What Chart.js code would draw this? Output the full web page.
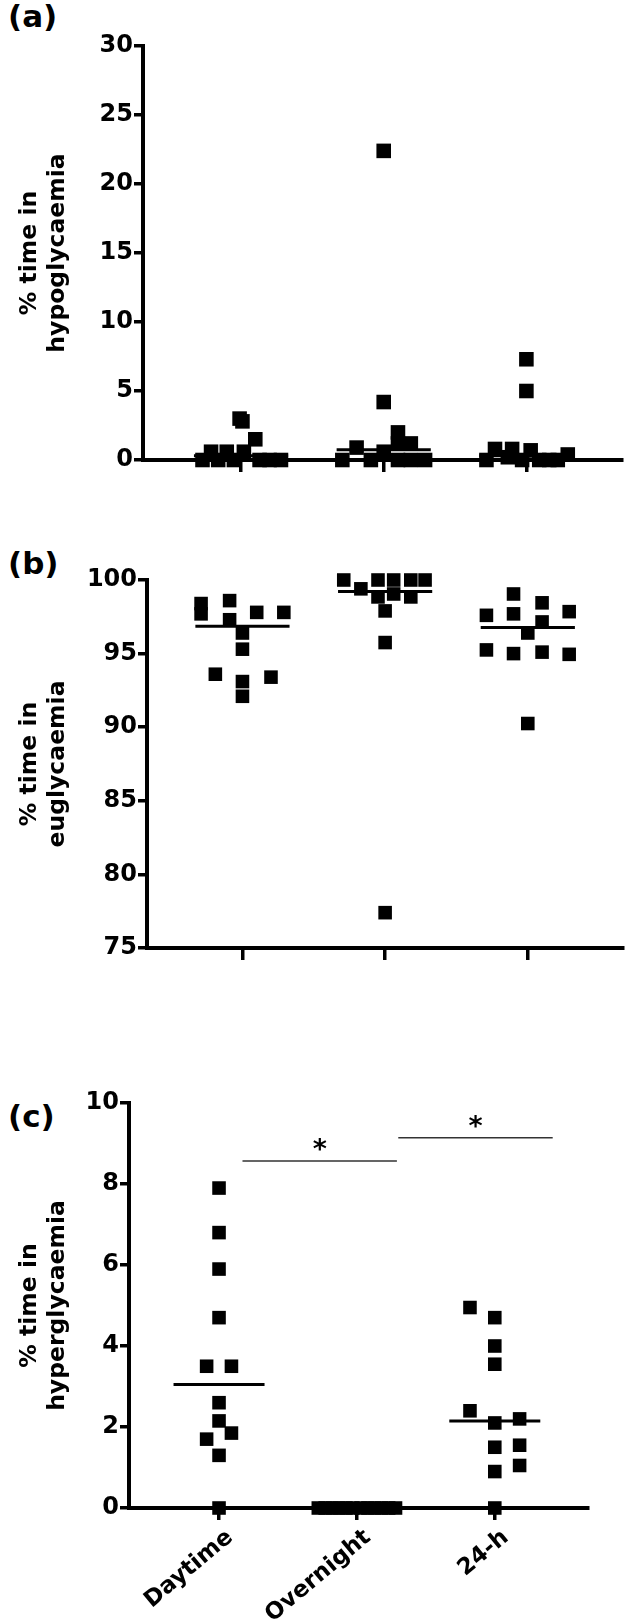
<!DOCTYPE html>
<html>
<head>
<meta charset="utf-8">
<script src="https://cdn.jsdelivr.net/npm/chart.js@4.4.0/dist/chart.umd.min.js"></script>
<style>
  body { margin: 0; background: #fff; width: 632px; height: 1620px; position: relative; overflow: hidden; }
  .panel { position: absolute; left: 0; width: 632px; }
  .tag { position: absolute; left: 8px; font: bold 31px "DejaVu Sans", sans-serif; line-height: 32px; color: #000; }
  canvas { display: block; }
</style>
</head>
<body>
<div class="tag" style="top:0px">(a)</div>
<div class="tag" style="top:547px">(b)</div>
<div class="tag" style="top:1100px">(c)</div>

<div class="panel" style="top:0px;height:500px"><canvas id="hypo" width="632" height="500"></canvas></div>
<div class="panel" style="top:500px;height:500px"><canvas id="eug" width="632" height="500"></canvas></div>
<div class="panel" style="top:1000px;height:620px"><canvas id="hyper" width="632" height="620"></canvas></div>

<script>
const categories = ['Daytime', 'Overnight', '24-h'];

// (a) % time in hypoglycaemia
const hypoDaytime   = [0, 0.6, 0, 0.6, 0, 0.6, 3.0, 2.8, 1.5, 0, 0, 0];
const hypoOvernight = [0, 0.9, 0, 22.4, 4.2, 0.6, 2.0, 1.2, 0, 1.2, 0, 0];
const hypo24h       = [0, 0.8, 0.2, 0.8, 0, 7.3, 5.0, 0.7, 0, 0, 0, 0.4];
// where each square sits inside its column (category units)
const hypoSpreadDaytime   = [-0.27, -0.21, -0.16, -0.10, -0.05, 0.02, -0.01, 0.01, 0.10, 0.13, 0.20, 0.28];
const hypoSpreadOvernight = [-0.29, -0.19, -0.09, 0, 0, 0, 0.10, 0.10, 0.10, 0.19, 0.19, 0.29];
const hypoSpread24h       = [-0.28, -0.22, -0.13, -0.10, -0.03, 0, 0, 0.03, 0.09, 0.16, 0.22, 0.29];
const hypoTicks = [0, 30, 5];

// (b) % time in euglycaemia
const eugDaytime   = [98.4, 97.7, 98.6, 97.3, 96.4, 95.3, 93.6, 93.1, 92.1, 93.4, 97.8, 97.8];
const eugOvernight = [100, 99.4, 100, 98.85, 100, 99.05, 100, 98.85, 100, 97.9, 95.75, 77.4];
const eug24h       = [97.6, 99.05, 97.7, 98.45, 97.15, 96.4, 97.85, 95.25, 95.0, 95.1, 94.95, 90.25];
const eugSpreadDaytime   = [-0.29, -0.29, -0.09, -0.09, 0, 0, -0.19, 0, 0, 0.20, 0.10, 0.29];
const eugSpreadOvernight = [-0.29, -0.17, -0.05, -0.05, 0.06, 0.06, 0.18, 0.18, 0.28, 0, 0, 0];
const eugSpread24h       = [-0.29, -0.10, -0.10, 0.10, 0.10, 0, 0.29, -0.29, -0.10, 0.10, 0.29, 0];
const eugTicks = [75, 100, 5];

// (c) % time in hyperglycaemia
const hyperDaytime   = [7.9, 6.8, 5.9, 4.7, 3.5, 3.5, 2.6, 2.15, 1.85, 1.7, 1.3, 0];
const hyperOvernight = [0, 0, 0, 0, 0, 0, 0, 0, 0, 0, 0, 0];
const hyper24h       = [4.95, 4.7, 4.0, 3.55, 2.4, 2.1, 2.2, 1.5, 1.55, 0.9, 1.05, 0];
const hyperSpreadDaytime   = [0, 0, 0, 0, -0.09, 0.09, 0, 0, 0.09, -0.09, 0, 0];
const hyperSpreadOvernight = [-0.28, -0.23, -0.18, -0.13, -0.08, -0.03, 0.03, 0.08, 0.13, 0.18, 0.23, 0.28];
const hyperSpread24h       = [-0.18, 0, 0, 0, -0.18, 0, 0.18, 0, 0.18, 0, 0.18, 0];
const hyperTicks = [0, 10, 2];

// significance brackets in (c)
const sigFrom  = [0.17, 1.30];
const sigTo    = [1.29, 2.42];
const sigLevel = [8.57, 9.14];
const sigText  = ['*', '*'];

Chart.defaults.font.family = '"DejaVu Sans", sans-serif';
Chart.defaults.font.weight = 'bold';
Chart.defaults.color = '#000';

function median(arr) {
    const s = [...arr].sort((a, b) => a - b);
    const n = s.length;
    return n % 2 ? s[(n - 1) / 2] : (s[n / 2 - 1] + s[n / 2]) / 2;
}

const starPlugin = {
    id: 'stars',
    afterDatasetsDraw(chart, args, opts) {
        if (!opts.labels) return;
        const { ctx, scales: { x, y } } = chart;
        ctx.save();
        ctx.font = 'bold 27px "DejaVu Sans", sans-serif';
        ctx.fillStyle = '#000';
        ctx.textAlign = 'center';
        ctx.textBaseline = 'alphabetic';
        opts.labels.forEach((t, i) => {
            const cx = x.getPixelForValue((opts.from[i] + opts.to[i]) / 2);
            ctx.fillText(t, cx, y.getPixelForValue(opts.level[i]) - 3);
        });
        ctx.restore();
    }
};

function drawPanel(id, p) {
    const pts = [];
    p.groups.forEach((vals, g) => vals.forEach((v, k) => pts.push({ x: g + p.spread[g][k], y: v })));

    const medLine = [];
    p.groups.forEach((vals, g) => {
        const m = median(vals);
        medLine.push({ x: g - 0.33, y: m }, { x: g + 0.33, y: m }, { x: g + 0.5, y: null });
    });

    const datasets = [
        { data: pts, pointStyle: 'rect', pointRadius: p.marker, pointBackgroundColor: '#000',
          pointBorderWidth: 0, clip: false },
        { data: medLine, showLine: true, pointRadius: 0, borderColor: '#000', borderWidth: 3,
          spanGaps: false, clip: false }
    ];

    if (p.sig) {
        const sigLine = [];
        p.sig.from.forEach((f, i) => {
            sigLine.push({ x: f, y: p.sig.level[i] }, { x: p.sig.to[i], y: p.sig.level[i] }, { x: p.sig.to[i], y: null });
        });
        datasets.push({ data: sigLine, showLine: true, pointRadius: 0, borderColor: '#333',
                        borderWidth: 1.5, spanGaps: false, clip: false });
    }

    const a = p.area;
    const tickFont = { size: 24, weight: 'bold' };

    new Chart(document.getElementById(id), {
        type: 'scatter',
        data: { datasets },
        plugins: [starPlugin],
        options: {
            responsive: false,
            animation: false,
            devicePixelRatio: 1,
            layout: { padding: { top: a.top, right: 632 - a.right, bottom: 0, left: 0 } },
            plugins: {
                legend: { display: false },
                tooltip: { enabled: false },
                stars: p.sig ? { labels: p.sig.text, from: p.sig.from, to: p.sig.to, level: p.sig.level } : {}
            },
            scales: {
                x: {
                    type: 'linear',
                    min: p.xMin,
                    max: p.xMax,
                    afterBuildTicks: s => { s.ticks = categories.map((c, i) => ({ value: i })); },
                    afterFit: s => { s.height = p.h - a.bottom; },
                    grid: { drawOnChartArea: false, drawTicks: true, tickLength: 12, lineWidth: 3.5, color: '#000' },
                    border: { display: true, width: 4, color: '#000' },
                    ticks: {
                        display: p.labels,
                        autoSkip: false,
                        maxRotation: 40,
                        minRotation: 40,
                        padding: 4,
                        labelOffset: 11,
                        font: { size: 23, weight: 'bold' },
                        callback: v => categories[v]
                    }
                },
                y: {
                    min: p.ticks[0],
                    max: p.ticks[1],
                    afterFit: s => { s.width = a.left; },
                    ticks: { stepSize: p.ticks[2], padding: 1, font: tickFont },
                    grid: { drawOnChartArea: false, tickLength: 9, lineWidth: 3.5, color: '#000' },
                    border: { width: 4, color: '#000' },
                    title: {
                        display: true,
                        text: p.title,
                        font: { size: 23.5, weight: 'bold', lineHeight: 1.2 },
                        padding: { top: 16, bottom: 0 }
                    }
                }
            }
        }
    });
}

drawPanel('hypo', {
    groups: [hypoDaytime, hypoOvernight, hypo24h],
    spread: [hypoSpreadDaytime, hypoSpreadOvernight, hypoSpread24h],
    ticks: hypoTicks,
    title: ['% time in', 'hypoglycaemia'],
    area: { top: 46, bottom: 460, left: 143, right: 627 },
    h: 500, xMin: -0.687, xMax: 2.668, marker: 10.3, labels: false
});

drawPanel('eug', {
    groups: [eugDaytime, eugOvernight, eug24h],
    spread: [eugSpreadDaytime, eugSpreadOvernight, eugSpread24h],
    ticks: eugTicks,
    title: ['% time in', 'euglycaemia'],
    area: { top: 80, bottom: 448, left: 147, right: 627 },
    h: 500, xMin: -0.669, xMax: 2.663, marker: 9.6, labels: false
});

drawPanel('hyper', {
    groups: [hyperDaytime, hyperOvernight, hyper24h],
    spread: [hyperSpreadDaytime, hyperSpreadOvernight, hyperSpread24h],
    ticks: hyperTicks,
    title: ['% time in', 'hyperglycaemia'],
    area: { top: 103, bottom: 508, left: 129, right: 588 },
    h: 620, xMin: -0.653, xMax: 2.676, marker: 9.6, labels: true,
    sig: { from: sigFrom, to: sigTo, level: sigLevel, text: sigText }
});
</script>
</body>
</html>
